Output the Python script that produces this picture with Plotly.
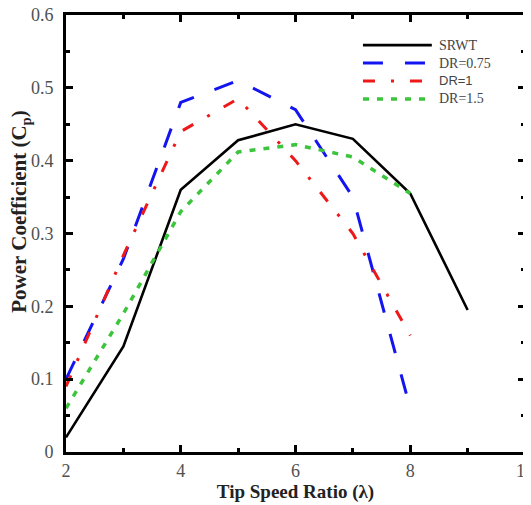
import plotly.graph_objects as go

tsr = [2, 3, 4, 5, 6, 7, 8, 9]
srwt = [0.02, 0.145, 0.36, 0.428, 0.45, 0.43, 0.355, 0.195]
tsr_dr = [2, 3, 4, 5, 6, 7, 8]
dr075 = [0.10, 0.265, 0.48, 0.51, 0.47, 0.35, 0.06]
dr1 = [0.09, 0.27, 0.44, 0.485, 0.40, 0.30, 0.16]
dr15 = [0.06, 0.19, 0.33, 0.412, 0.422, 0.405, 0.355]

series_names = ["SRWT", "DR=0.75", "DR=1", "DR=1.5"]

x_ticks = [2, 4, 6, 8, 10]
x_labels = ["2", "4", "6", "8", "10"]
y_ticks = [0, 0.1, 0.2, 0.3, 0.4, 0.5, 0.6]
y_labels = ["0", "0.1", "0.2", "0.3", "0.4", "0.5", "0.6"]

serif = "Liberation Serif, Times New Roman, serif"
sans = "Liberation Sans, Arial, sans-serif"

styles = [
    dict(color="black", width=2.6, dash="solid"),
    dict(color="#1414f0", width=3, dash="20px,22px"),
    dict(color="#ee1818", width=3, dash="12px,16px,3px,16px"),
    dict(color="#3cc43c", width=3.5, dash="6px,8px"),
]
label_fonts = [serif, serif, sans, serif]

fig = go.Figure()
xs = [tsr, tsr_dr, tsr_dr, tsr_dr]
ys = [srwt, dr075, dr1, dr15]
for name, x, y, st in zip(series_names, xs, ys, styles):
    fig.add_trace(go.Scatter(x=x, y=y, mode="lines", name=name, line=st, showlegend=False))

# manual legend with long line samples (as in the reference)
leg_x0, leg_x1, leg_tx = 0.647, 0.797, 0.808
leg_y0, leg_dy = 0.931, 0.041
for i, (name, st, fnt) in enumerate(zip(series_names, styles, label_fonts)):
    yy = leg_y0 - i * leg_dy
    fig.add_shape(type="line", xref="paper", yref="paper", x0=leg_x0, x1=leg_x1, y0=yy, y1=yy,
                  line=st)
    fig.add_annotation(xref="paper", yref="paper", x=leg_tx, y=yy, text=name, showarrow=False,
                       xanchor="left", yanchor="middle",
                       font=dict(family=fnt, size=14 if fnt == serif else 13, color="#444444"))

# y-axis title (placed slightly above centre, as in the reference)
fig.add_annotation(xref="paper", yref="paper", x=-0.1, y=0.55, textangle=-90,
                   text="<b>Power Coefficient (C<sub>p</sub>)</b>", showarrow=False,
                   xanchor="center", yanchor="middle",
                   font=dict(family=serif, size=21, color="#222222"))

axis_common = dict(showline=True, linecolor="black", linewidth=3, mirror="ticks",
                   ticks="inside", tickcolor="black", tickwidth=2.5, ticklen=7,
                   showgrid=False, zeroline=False, automargin=False,
                   ticklabeloverflow="allow",
                   tickfont=dict(family=serif, size=18, color="#505050"))

fig.update_xaxes(range=[2, 10], tickmode="array", tickvals=x_ticks, ticktext=x_labels,
                 minor=dict(dtick=1, ticks="inside", ticklen=4, tickwidth=2.5, tickcolor="black"),
                 title=dict(text="<b>Tip Speed Ratio (λ)</b>", font=dict(family=serif, size=19, color="#222"),
                            standoff=0),
                 **axis_common)
fig.update_yaxes(range=[0, 0.6], tickmode="array", tickvals=y_ticks, ticktext=y_labels,
                 ticklabelstandoff=6,
                 minor=dict(dtick=0.05, ticks="inside", ticklen=4, tickwidth=2.5, tickcolor="black"),
                 **axis_common)

# page body has an 8px margin, so the figure is sized to fill the rest of the window
fig.update_layout(
    width=523, height=497,
    margin=dict(l=58, r=6, t=7, b=53),
    plot_bgcolor="white", paper_bgcolor="white",
    showlegend=False,
)

fig.write_html("out.html")
